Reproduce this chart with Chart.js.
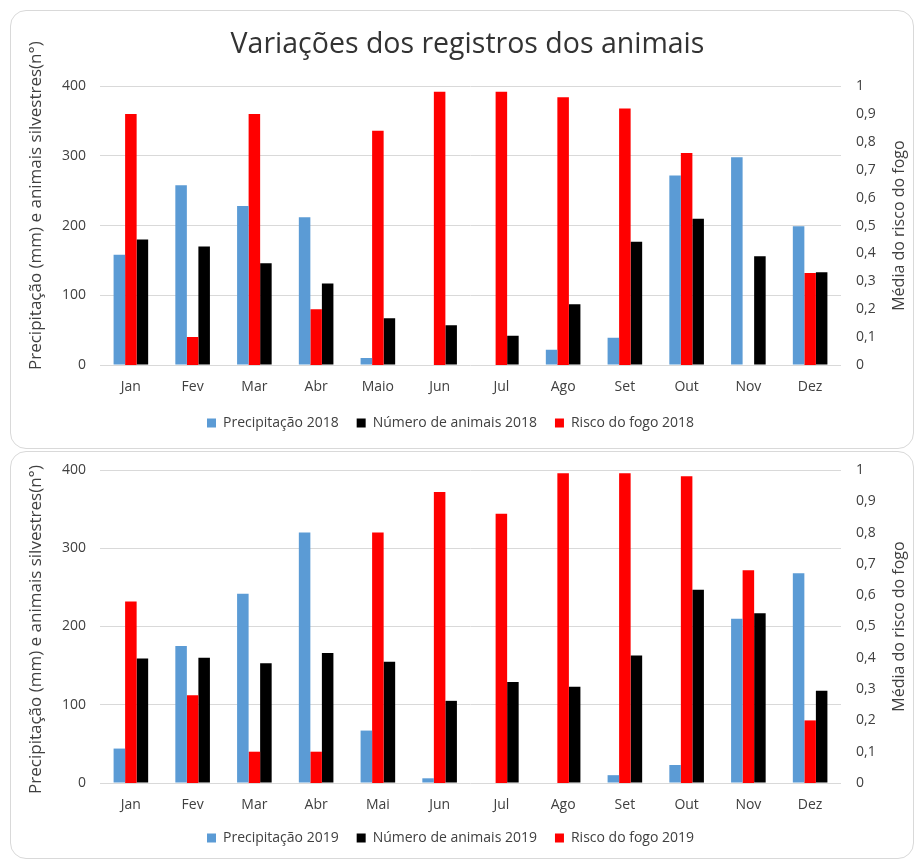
<!DOCTYPE html>
<html>
<head>
<meta charset="utf-8">
<script src="https://cdn.jsdelivr.net/npm/chart.js@4/dist/chart.umd.min.js"></script>
<style>
  html, body { margin: 0; padding: 0; background: #ffffff; }
  body { width: 919px; height: 863px; position: relative; overflow: hidden; }
  .box { position: absolute; border: 1.5px solid #d9d9d9; border-radius: 16px; background: #fff; }
  canvas { position: absolute; left: 0; top: 0; }
</style>
</head>
<body>
<div class="box" id="box1" style="left:10px; top:10px; width:902px; height:437px;">
  <canvas id="c1" width="900" height="436"></canvas>
</div>
<div class="box" id="box2" style="left:10px; top:451px; width:902px; height:406px;">
  <canvas id="c2" width="900" height="405"></canvas>
</div>
<script>
const months2018 = ['Jan','Fev','Mar','Abr','Maio','Jun','Jul','Ago','Set','Out','Nov','Dez'];
const precip2018 = [158, 258, 228, 212, 10, 0, 0, 22, 39, 272, 298, 199];
const animals2018 = [180, 170, 146, 117, 67, 57, 42, 87, 177, 210, 156, 133];
const risk2018 = [0.90, 0.10, 0.90, 0.20, 0.84, 0.98, 0.98, 0.96, 0.92, 0.76, 0, 0.33];

const months2019 = ['Jan','Fev','Mar','Abr','Mai','Jun','Jul','Ago','Set','Out','Nov','Dez'];
const precip2019 = [44, 175, 242, 320, 67, 6, 0, 0, 10, 23, 210, 268];
const animals2019 = [159, 160, 153, 166, 155, 105, 129, 123, 163, 247, 217, 118];
const risk2019 = [0.58, 0.28, 0.10, 0.10, 0.80, 0.93, 0.86, 0.99, 0.99, 0.98, 0.68, 0.20];

const leftTicks = [0, 100, 200, 300, 400];
const rightTicks = ['0','0,1','0,2','0,3','0,4','0,5','0,6','0,7','0,8','0,9','1'];

const FONT = "'Open Sans', 'Noto Sans', sans-serif";
const TEXT = '#404040';
const BLUE = '#5B9BD5', RED = '#FF0000', BLACK = '#000000';

const axisTitlesPlugin = {
  id: 'axisTitles',
  afterLayout(chart, args, opts) {
    if (chart.legend) {
      chart.legend.left += opts.legendShift;
      chart.legend.right += opts.legendShift;
    }
  },
  afterDraw(chart, args, opts) {
    const ctx = chart.ctx;
    const ca = chart.chartArea;
    const mid = (ca.top + ca.bottom) / 2;
    ctx.save();
    ctx.fillStyle = TEXT;
    ctx.textAlign = 'center';
    ctx.textBaseline = 'middle';
    ctx.save();
    ctx.translate(opts.leftX, mid + opts.leftDy);
    ctx.rotate(-Math.PI / 2);
    ctx.font = "17px " + FONT;
    ctx.fillText(opts.leftText, 0, 0);
    ctx.restore();
    ctx.save();
    ctx.translate(opts.rightX, mid);
    ctx.rotate(-Math.PI / 2);
    ctx.font = "16px " + FONT;
    ctx.fillText(opts.rightText, 0, 0);
    ctx.restore();
    ctx.restore();
  }
};

function makeChart(id, cfg) {
  const legendOrder = [0, 2, 1];
  return new Chart(document.getElementById(id), {
    type: 'bar',
    data: {
      labels: cfg.labels,
      datasets: [
        { label: 'Precipitação ' + cfg.year, data: cfg.precip, backgroundColor: BLUE, yAxisID: 'y' },
        { label: 'Risco do fogo ' + cfg.year, data: cfg.risk, backgroundColor: RED, yAxisID: 'y1' },
        { label: 'Número de animais ' + cfg.year, data: cfg.animals, backgroundColor: BLACK, yAxisID: 'y' }
      ]
    },
    options: {
      responsive: false,
      devicePixelRatio: 1,
      animation: false,
      layout: { padding: { left: 13, right: 0, top: cfg.padTop, bottom: cfg.padBottom } },
      datasets: { bar: { categoryPercentage: 0.56, barPercentage: 1.0 } },
      plugins: {
        title: {
          display: !!cfg.title,
          text: cfg.title || '',
          color: '#333333',
          font: { family: FONT, size: 28.5, weight: 'normal' },
          padding: { top: 17, bottom: 24 }
        },
        legend: {
          position: 'bottom',
          labels: {
            boxWidth: 9, boxHeight: 9, padding: 18, color: TEXT,
            font: { family: FONT, size: 14 },
            sort: (a, b) => legendOrder[a.datasetIndex] - legendOrder[b.datasetIndex]
          }
        },
        tooltip: { enabled: false },
        axisTitles: {
          leftText: 'Precipitação (mm) e animais silvestres(n°)',
          rightText: 'Média do risco do fogo',
          leftX: 25, leftDy: cfg.leftDy, rightX: 888, legendShift: -17
        }
      },
      scales: {
        x: {
          grid: { display: false, drawTicks: false },
          border: { display: false },
          ticks: { color: TEXT, font: { family: FONT, size: 14 }, padding: 14, maxRotation: 0 },
          afterFit: (s) => { s.height = cfg.xHeight; }
        },
        y: {
          position: 'left',
          min: 0, max: 400,
          afterBuildTicks: (s) => { s.ticks = leftTicks.map(v => ({ value: v })); },
          grid: { color: '#d9d9d9', lineWidth: 1, drawTicks: false },
          border: { display: false },
          ticks: { color: TEXT, font: { family: FONT, size: 14 }, padding: 14 },
          afterFit: (s) => { s.width = 76; s.paddingTop = 0; s.paddingBottom = 0; }
        },
        y1: {
          position: 'right',
          min: 0, max: 1,
          afterBuildTicks: (s) => { s.ticks = rightTicks.map((t, i) => ({ value: i / 10 })); },
          grid: { display: false, drawTicks: false },
          border: { display: false },
          ticks: {
            color: TEXT, font: { family: FONT, size: 14 }, padding: 15,
            callback: (v, i) => rightTicks[i]
          },
          afterFit: (s) => { s.width = 70; s.paddingTop = 0; s.paddingBottom = 0; }
        }
      }
    },
    plugins: [axisTitlesPlugin]
  });
}

makeChart('c1', {
  labels: months2018, precip: precip2018, animals: animals2018, risk: risk2018,
  year: '2018', title: 'Variações dos registros dos animais',
  padTop: 0, padBottom: 7, xHeight: 33, leftDy: -20
});
makeChart('c2', {
  labels: months2019, precip: precip2019, animals: animals2019, risk: risk2019,
  year: '2019', title: null,
  padTop: 18, padBottom: 2, xHeight: 30, leftDy: 3
});
</script>
</body>
</html>
